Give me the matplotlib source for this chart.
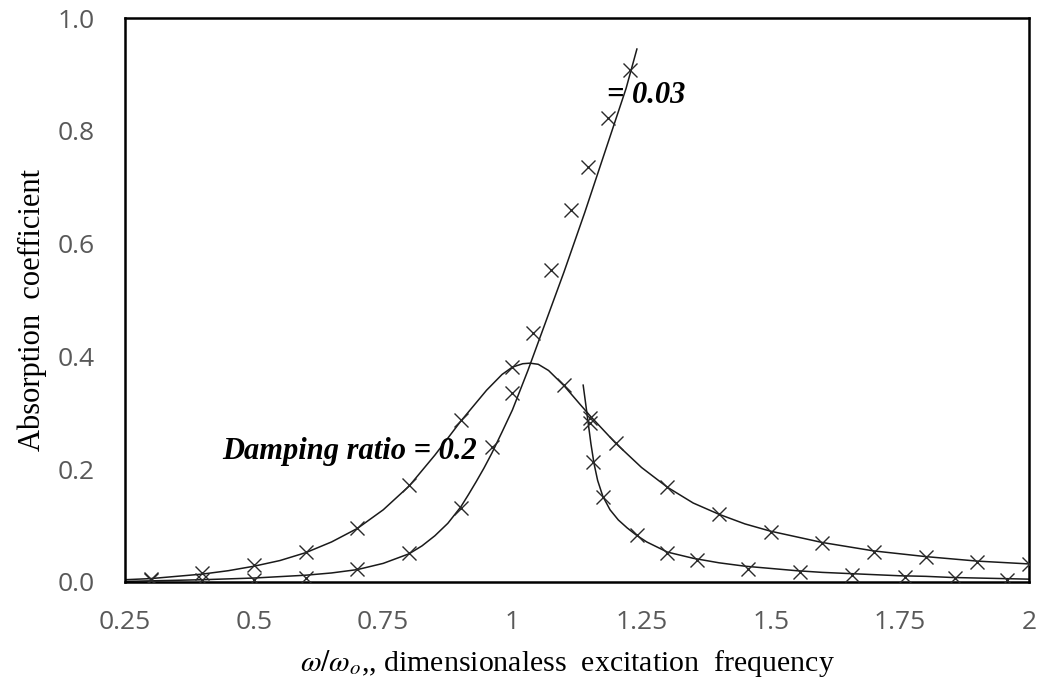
import matplotlib
matplotlib.use("Agg")
import matplotlib.pyplot as plt

plt.rcParams["mathtext.fontset"] = "stix"

# Measured points, damping ratio 0.2
z02_x = [0.3, 0.4, 0.5, 0.6, 0.7, 0.8, 0.9, 1.0, 1.1, 1.15, 1.2, 1.3, 1.4,
         1.5, 1.6, 1.7, 1.8, 1.9, 2.0]
z02_y = [0.005, 0.016, 0.030, 0.053, 0.096, 0.172, 0.287, 0.381, 0.349,
         0.291, 0.246, 0.168, 0.121, 0.089, 0.069, 0.053, 0.044, 0.036, 0.032]

# Fitted curve, damping ratio 0.2
z02_fit_x = [0.25, 0.3, 0.35, 0.4, 0.45, 0.5, 0.55, 0.6, 0.65, 0.7, 0.75, 0.8,
             0.85, 0.9, 0.95, 0.98, 1.0, 1.02, 1.034, 1.05, 1.07, 1.1, 1.13,
             1.15, 1.2, 1.25, 1.3, 1.35, 1.4, 1.45, 1.5, 1.6, 1.7, 1.8, 1.9, 2.0]
z02_fit_y = [0.004, 0.006, 0.010, 0.014, 0.020, 0.028, 0.038, 0.052, 0.071,
             0.095, 0.128, 0.170, 0.225, 0.285, 0.340, 0.368, 0.381, 0.387,
             0.388, 0.386, 0.375, 0.348, 0.316, 0.295, 0.246, 0.203, 0.168,
             0.140, 0.120, 0.103, 0.090, 0.070, 0.055, 0.045, 0.037, 0.032]

# Measured points, damping ratio 0.03 (rising part)
z003_up_x = [0.3, 0.4, 0.5, 0.6, 0.7, 0.8, 0.9, 0.96, 1.0, 1.04, 1.075, 1.113,
             1.146, 1.185, 1.227]
z003_up_y = [0.003, 0.004, 0.004, 0.007, 0.023, 0.051, 0.131, 0.239, 0.335,
             0.441, 0.553, 0.660, 0.736, 0.823, 0.908]

# Measured points, damping ratio 0.03 (falling part)
z003_dn_x = [1.15, 1.156, 1.175, 1.241, 1.299, 1.357, 1.456, 1.557, 1.657,
             1.76, 1.857, 1.957]
z003_dn_y = [0.282, 0.213, 0.151, 0.083, 0.051, 0.039, 0.023, 0.018, 0.012,
             0.009, 0.007, 0.004]

# Fitted curves, damping ratio 0.03
z003_fit_up_x = [0.25, 0.3, 0.4, 0.5, 0.6, 0.65, 0.7, 0.75, 0.8, 0.825, 0.85,
                 0.875, 0.9, 0.915, 0.93, 0.945, 0.96, 0.98, 1.0, 1.03, 1.06,
                 1.1, 1.14, 1.18, 1.22, 1.241]
z003_fit_up_y = [0.001, 0.002, 0.004, 0.007, 0.012, 0.016, 0.022, 0.033, 0.050,
                 0.064, 0.082, 0.104, 0.133, 0.155, 0.178, 0.202, 0.228, 0.266,
                 0.305, 0.375, 0.450, 0.550, 0.655, 0.765, 0.875, 0.945]
z003_fit_dn_x = [1.137, 1.142, 1.147, 1.152, 1.158, 1.165, 1.175, 1.189, 1.205,
                 1.222, 1.24, 1.26, 1.3, 1.35, 1.4, 1.45, 1.5, 1.55, 1.6, 1.65,
                 1.7, 1.75, 1.8, 1.85, 1.9, 1.95, 2.0]
z003_fit_dn_y = [0.349, 0.315, 0.280, 0.245, 0.210, 0.180, 0.152, 0.128, 0.110,
                 0.096, 0.083, 0.071, 0.053, 0.042, 0.034, 0.028, 0.024, 0.020,
                 0.017, 0.015, 0.013, 0.011, 0.010, 0.008, 0.007, 0.006, 0.005]

x_ticks = [0.25, 0.5, 0.75, 1.0, 1.25, 1.5, 1.75, 2.0]
x_tick_labels = ["0.25", "0.5", "0.75", "1", "1.25", "1.5", "1.75", "2"]
y_ticks = [0.0, 0.2, 0.4, 0.6, 0.8, 1.0]
y_tick_labels = ["0.0", "0.2", "0.4", "0.6", "0.8", "1.0"]

fig = plt.figure(figsize=(10.5, 6.85), dpi=100)
ax = fig.add_axes([0.119, 0.1504, 0.861, 0.8233])

line_kw = dict(color="#1a1a1a", lw=1.1, zorder=2)
mark_kw = dict(ls="none", marker="x", ms=9.5, mew=1.0, color="#2a2a2a", zorder=3)

ax.plot(z02_fit_x, z02_fit_y, **line_kw)
ax.plot(z003_fit_up_x, z003_fit_up_y, **line_kw)
ax.plot(z003_fit_dn_x, z003_fit_dn_y, **line_kw)

ax.plot(z02_x, z02_y, **mark_kw)
ax.plot(z003_up_x, z003_up_y, **mark_kw)
ax.plot(z003_dn_x, z003_dn_y, **mark_kw)

ax.set_xlim(0.25, 2.0)
ax.set_ylim(0.0, 1.0)
ax.set_xticks(x_ticks)
ax.set_xticklabels(x_tick_labels)
ax.set_yticks(y_ticks)
ax.set_yticklabels(y_tick_labels)
ax.tick_params(length=0, labelsize=19, labelcolor="#595959")
ax.tick_params(axis="x", pad=20)
ax.tick_params(axis="y", pad=22)
for lab in ax.get_xticklabels() + ax.get_yticklabels():
    lab.set_fontfamily("Open Sans")

for sp in ax.spines.values():
    sp.set_linewidth(1.8)
    sp.set_color("black")

serif = "Liberation Serif"
ax.set_xlabel(r"$\omega/\omega_{o}$,, dimensionaless  excitation  frequency",
              fontfamily=serif, fontsize=21.5, va="center")
ax.xaxis.set_label_coords(0.489, -0.145)
ax.set_ylabel("Absorption  coefficient", fontfamily=serif, fontsize=22,
              va="center")
ax.yaxis.set_label_coords(-0.103, 0.483)

ax.text(0.438, 0.232, "Damping ratio = 0.2", fontfamily=serif, fontsize=22,
        fontweight="bold", fontstyle="italic", va="center", ha="left", zorder=4)
ax.text(1.183, 0.863, "= 0.03", fontfamily=serif, fontsize=22,
        fontweight="bold", fontstyle="italic", va="center", ha="left", zorder=4)

fig.savefig("out.png", dpi=100)
